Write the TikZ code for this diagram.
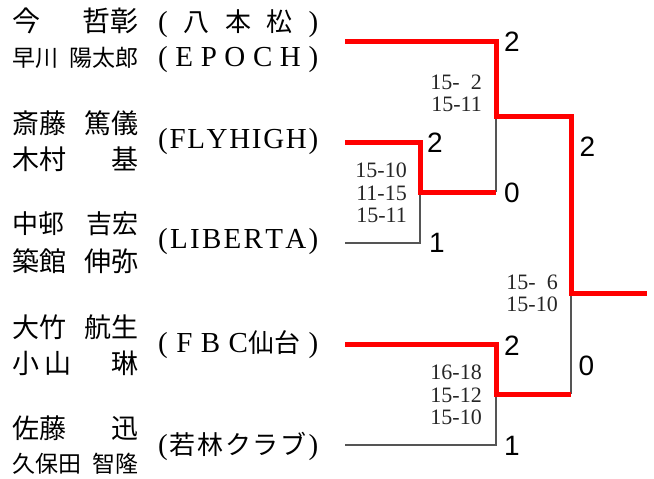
\documentclass[tikz,border=0pt]{standalone}
\usepackage{fontspec}
\setmainfont{Liberation Serif}
\newfontfamily\cjkf{Noto Sans CJK JP}
\newfontfamily\sansf{Liberation Sans}
\newcommand\fsz[1]{\fontsize{#1pt}{#1pt}\selectfont}
\definecolor{bred}{RGB}{255,0,0}
\definecolor{thin}{RGB}{85,85,85}
\tikzset{
  redline/.style={line width=5pt, draw=bred, line join=miter},
  thinline/.style={line width=1.2pt, draw=thin},
  namebox/.style={anchor=west, inner sep=0pt, font=\cjkf},
  teambox/.style={anchor=west, inner sep=0pt},
  scorebox/.style={anchor=east, inner sep=0pt, align=right, font=\fontsize{22pt}{22.5pt}\selectfont, text=black!85},
  result/.style={inner sep=0pt, font=\sansf\fsz{28}},
}
\newcommand\cj[1]{{\cjkf\fsz{26}#1}}
\begin{document}
\begin{tikzpicture}[x=1pt,y=-1pt]
\useasboundingbox (0,0) rectangle (654,479);
% names
\node[namebox] (n1a) at (12,20.5) {\makebox[126pt][s]{\fsz{28}今\hfill 哲彰}};
\node[namebox] (n1b) at (12,57.5) {\makebox[126pt][s]{\fsz{23}早川\hfill 陽太郎}};
\node[namebox] (n2a) at (12,123.5) {\makebox[126pt][s]{\fsz{27}斎藤\hfill 篤儀}};
\node[namebox] (n2b) at (12,159.5) {\makebox[126pt][s]{\fsz{27}木村\hfill 基}};
\node[namebox] (n3a) at (12,224) {\makebox[126pt][s]{\fsz{26}中邨\hfill 吉宏}};
\node[namebox] (n3b) at (12,261) {\makebox[126pt][s]{\fsz{27}築館\hfill 伸弥}};
\node[namebox] (n4a) at (12,327) {\makebox[126pt][s]{\fsz{27}大竹\hfill 航生}};
\node[namebox] (n4b) at (12,363.5) {\makebox[126pt][s]{\fsz{27}小\hspace{5pt}山\hfill 琳}};
\node[namebox] (n5a) at (12,428) {\makebox[126pt][s]{\fsz{27}佐藤\hfill 迅}};
\node[namebox] (n5b) at (12,464) {\makebox[126pt][s]{\fsz{23}久保田\hfill 智隆}};
% teams
\node[teambox] (t1a) at (158,24) {\makebox[160pt][s]{\fsz{29}(\hfill\cj{八}\hfill\cj{本}\hfill\cj{松}\hfill)}};
\node[teambox] (t1b) at (158,60) {\makebox[160pt][s]{\fsz{29}(\hfill E\hfill P\hfill O\hfill C\hfill H\hfill)}};
\node[teambox] (t2) at (158,142) {\makebox[160pt][s]{\fsz{29}(\hfill F\hfill L\hfill Y\hfill H\hfill I\hfill G\hfill H\hfill)}};
\node[teambox] (t3) at (158,242) {\makebox[160pt][s]{\fsz{29}(\hfill L\hfill I\hfill B\hfill E\hfill R\hfill T\hfill A\hfill)}};
\node[teambox] (t4) at (158,345) {\makebox[160pt][s]{\fsz{29}(\hfill F\hfill B\hfill C\cj{仙台}\hfill)}};
\node[teambox] (t5) at (158,446) {\makebox[160pt][s]{\fsz{29}(\hfill\cj{若}\hfill\cj{林}\hfill\cj{ク}\hfill\cj{ラ}\hfill\cj{ブ}\hfill)}};
% bracket points
\coordinate (a0) at (345,41);  \coordinate (a1) at (496,41);
\coordinate (b0) at (345,142); \coordinate (b1) at (420,142);
\coordinate (c0) at (345,243); \coordinate (c1) at (420,243);
\coordinate (d0) at (345,344); \coordinate (d1) at (496,344);
\coordinate (e0) at (345,445); \coordinate (e1) at (496,445);
\coordinate (m1) at (420,192); \coordinate (m1r) at (496,192);
\coordinate (s1) at (496,116); \coordinate (s1r) at (571,116);
\coordinate (m2) at (496,394); \coordinate (m2r) at (571,394);
\coordinate (f0) at (571,293); \coordinate (f1) at (647,293);
% thin lines
\draw[thinline] (c0) -- (c1) -- (m1);
\draw[thinline] (s1) -- (m1r);
\draw[thinline] (e0) -- (e1) -- (m2);
\draw[thinline] (f0) -- (m2r);
% red lines
\draw[redline] (a0) -- (a1) -- (s1) -- (s1r) -- (f0) -- (f1);
\draw[redline] (b0) -- (b1) -- (m1) -- (m1r);
\draw[redline] (d0) -- (d1) -- (m2) -- (m2r);
% scores
\node[scorebox] (sc1) at (482,93.5) {15-\enspace 2\\15-11};
\node[scorebox] (sc2) at (407,193) {15-10\\11-15\\15-11};
\node[scorebox] (sc3) at (558,293.5) {15-\enspace 6\\15-10};
\node[scorebox] (sc4) at (482,395) {16-18\\15-12\\15-10};
% results
\node[result] (r1) at (512,42) {2};
\node[result] (r2) at (435,143) {2};
\node[result] (r3) at (512,193) {0};
\node[result] (r4) at (437,243) {1};
\node[result] (r5) at (587.5,147) {2};
\node[result] (r6) at (512,346) {2};
\node[result] (r7) at (586.5,366) {0};
\node[result] (r8) at (512,446) {1};
\end{tikzpicture}
\end{document}
